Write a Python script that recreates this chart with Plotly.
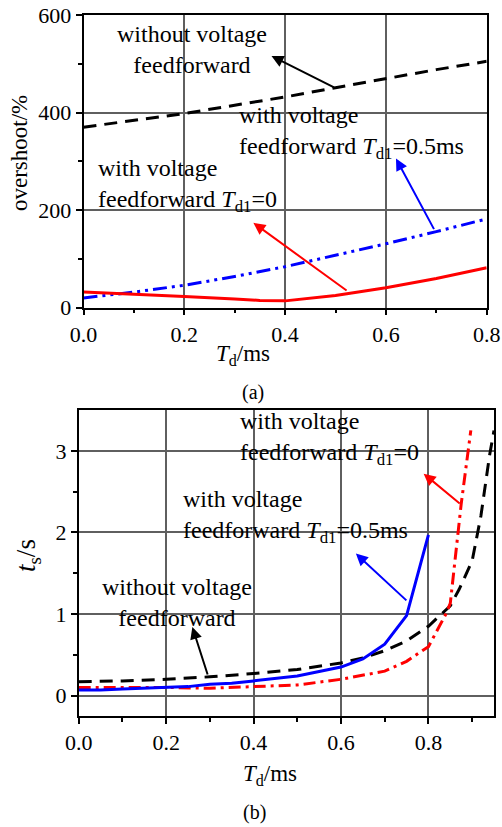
import plotly.graph_objects as go

# ---- panel (a): overshoot vs Td ----
a_x_without = [0.0, 0.1, 0.2, 0.3, 0.4, 0.5, 0.6, 0.7, 0.8]
a_y_without = [370, 384, 398, 415, 432, 451, 470, 488, 505]
a_x_td05 = [0.0, 0.1, 0.2, 0.3, 0.4, 0.5, 0.6, 0.7, 0.8]
a_y_td05 = [20, 32, 46, 64, 84, 107, 131, 156, 182]
a_x_td0 = [0.0, 0.1, 0.2, 0.3, 0.35, 0.4, 0.5, 0.6, 0.7, 0.8]
a_y_td0 = [32, 28, 23, 18, 15, 14, 25, 41, 60, 82]

# ---- panel (b): settling time vs Td ----
b_x_without = [0.0, 0.1, 0.2, 0.3, 0.4, 0.5, 0.6, 0.65, 0.7, 0.75, 0.8, 0.85, 0.87, 0.9, 0.92, 0.94, 0.95]
b_y_without = [0.17, 0.18, 0.2, 0.23, 0.27, 0.32, 0.4, 0.46, 0.55, 0.67, 0.85, 1.1, 1.3, 1.65, 2.2, 2.95, 3.25]
b_x_td0 = [0.0, 0.1, 0.2, 0.3, 0.4, 0.5, 0.6, 0.7, 0.75, 0.8, 0.84, 0.85, 0.875, 0.897]
b_y_td0 = [0.1, 0.1, 0.1, 0.09, 0.11, 0.13, 0.2, 0.3, 0.42, 0.6, 1.0, 1.13, 2.35, 3.25]
b_x_td05 = [0.0, 0.05, 0.1, 0.2, 0.25, 0.3, 0.35, 0.4, 0.5, 0.6, 0.65, 0.7, 0.75, 0.8]
b_y_td05 = [0.07, 0.07, 0.08, 0.1, 0.11, 0.14, 0.15, 0.18, 0.24, 0.35, 0.45, 0.63, 0.98, 1.97]

a_xticks = [0.0, 0.2, 0.4, 0.6, 0.8]
a_yticks = [0, 200, 400, 600]
b_xticks = [0.0, 0.2, 0.4, 0.6, 0.8]
b_yticks = [0, 1, 2, 3]

FONT = '"Liberation Serif", "Times New Roman", Times, serif'
W, H = 502, 827
GRID = "#5f5f5f"

fig = go.Figure()

fig.add_trace(go.Scatter(x=a_x_without, y=a_y_without, mode="lines", xaxis="x", yaxis="y",
                         line=dict(color="black", width=3, dash="13px,8px"), showlegend=False))
fig.add_trace(go.Scatter(x=a_x_td05, y=a_y_td05, mode="lines", xaxis="x", yaxis="y",
                         line=dict(color="blue", width=3, dash="14px,5px,3px,5px,3px,5px"), showlegend=False))
fig.add_trace(go.Scatter(x=a_x_td0, y=a_y_td0, mode="lines", xaxis="x", yaxis="y",
                         line=dict(color="red", width=3), showlegend=False))

fig.add_trace(go.Scatter(x=b_x_without, y=b_y_without, mode="lines", xaxis="x2", yaxis="y2",
                         line=dict(color="black", width=3, dash="13px,8px"), showlegend=False))
fig.add_trace(go.Scatter(x=b_x_td0, y=b_y_td0, mode="lines", xaxis="x2", yaxis="y2",
                         line=dict(color="red", width=3, dash="12px,5px,3px,5px"), showlegend=False))
fig.add_trace(go.Scatter(x=b_x_td05, y=b_y_td05, mode="lines", xaxis="x2", yaxis="y2",
                         line=dict(color="blue", width=3), showlegend=False))

axis_common = dict(
    showline=True, linecolor="black", linewidth=1.5, mirror=True,
    ticks="outside", ticklen=6, tickwidth=1.5, tickcolor="black",
    showgrid=True, gridcolor=GRID, gridwidth=1.5, zeroline=False,
    automargin=False,
    tickfont=dict(family=FONT, size=22, color="black"),
)

def px2x(px):
    return px / W

def py2y(py):
    return 1 - py / H

fig.update_layout(
    width=W, height=H, margin=dict(l=0, r=0, t=0, b=0, pad=0),
    autosize=False,
    paper_bgcolor="white", plot_bgcolor="white",
    font=dict(family=FONT, size=22, color="black"),
    xaxis=dict(domain=[px2x(83.5), px2x(486.7)], range=[0, 0.8], anchor="y",
               tickvals=a_xticks, ticktext=[f"{v:.1f}" for v in a_xticks],
               minor=dict(tickvals=[0.1, 0.3, 0.5, 0.7], ticks="outside", ticklen=4, tickcolor="black", showgrid=False),
               **axis_common),
    yaxis=dict(domain=[py2y(307.7), py2y(15)], range=[0, 600], anchor="x",
               tickvals=a_yticks, ticktext=[str(v) for v in a_yticks],
               minor=dict(tickvals=[100, 300, 500], ticks="outside", ticklen=4, tickcolor="black", showgrid=False),
               **axis_common),
    xaxis2=dict(domain=[px2x(78.7), px2x(494)], range=[0, 0.95], anchor="y2",
                tickvals=b_xticks, ticktext=[f"{v:.1f}" for v in b_xticks],
                minor=dict(tickvals=[0.1, 0.3, 0.5, 0.7, 0.9], ticks="outside", ticklen=4, tickcolor="black", showgrid=False),
                **axis_common),
    yaxis2=dict(domain=[py2y(716), py2y(410)], range=[-0.25, 3.5], anchor="x2",
                tickvals=b_yticks, ticktext=[str(v) for v in b_yticks],
                minor=dict(tickvals=[0.5, 1.5, 2.5], ticks="outside", ticklen=4, tickcolor="black", showgrid=False),
                **axis_common),
)

anns = []
ANN_SIZE = 24

def text_ann(x, y, text, xref, yref, xanchor="left", align="left", size=ANN_SIZE, angle=0):
    anns.append(dict(x=x, y=y, xref=xref, yref=yref, text=text, showarrow=False,
                     xanchor=xanchor, yanchor="middle", align=align, textangle=angle,
                     font=dict(family=FONT, size=size, color="black")))

def arrow_ann(x_tip, y_tip, x_tail, y_tail, xref, yref, color):
    anns.append(dict(x=x_tip, y=y_tip, ax=x_tail, ay=y_tail, xref=xref, yref=yref,
                     axref=xref, ayref=yref, text="", showarrow=True,
                     arrowhead=2, arrowsize=1.2, arrowwidth=2, arrowcolor=color))

# panel (a) texts
text_ann(0.2147, 530, "without voltage<br>feedforward", "x", "y", xanchor="center", align="center")
text_ann(0.305, 360, "with voltage<br>feedforward <i>T</i><sub>d1</sub>=0.5ms", "x", "y")
text_ann(0.0248, 251, "with voltage<br>feedforward <i>T</i><sub>d1</sub>=0", "x", "y")
arrow_ann(0.373, 516, 0.5, 450, "x", "y", "black")
arrow_ann(0.62, 306, 0.697, 158, "x", "y", "blue")
arrow_ann(0.337, 174, 0.525, 33, "x", "y", "red")

# panel (b) texts
text_ann(0.365, 3.15, "with voltage<br>feedforward <i>T</i><sub>d1</sub>=0", "x2", "y2")
text_ann(0.234, 2.2, "with voltage<br>feedforward <i>T</i><sub>d1</sub>=0.5ms", "x2", "y2")
text_ann(0.224, 1.14, "without voltage<br>feedforward", "x2", "y2", xanchor="center", align="center")
arrow_ann(0.789, 2.72, 0.875, 2.34, "x2", "y2", "red")
arrow_ann(0.634, 1.74, 0.753, 1.15, "x2", "y2", "blue")
arrow_ann(0.26, 0.84, 0.296, 0.24, "x2", "y2", "black")

# axis titles and captions
text_ann(px2x(20), py2y(153), "overshoot/%", "paper", "paper", xanchor="center", align="center", size=23, angle=-90)
text_ann(px2x(243), py2y(355), "<i>T</i><sub>d</sub>/ms", "paper", "paper", xanchor="center", align="center", size=23)
text_ann(px2x(253), py2y(393), "(a)", "paper", "paper", xanchor="center", align="center", size=20)
text_ann(px2x(28), py2y(556), "<i>t</i><sub>s</sub>/s", "paper", "paper", xanchor="center", align="center", size=27, angle=-90)
text_ann(px2x(270), py2y(775), "<i>T</i><sub>d</sub>/ms", "paper", "paper", xanchor="center", align="center", size=23)
text_ann(px2x(254), py2y(812), "(b)", "paper", "paper", xanchor="center", align="center", size=20)

fig.update_layout(annotations=anns)

fig.write_html("out.html", config={"displayModeBar": False},
               post_script="document.body.style.margin='0px';document.body.style.overflow='hidden';")
